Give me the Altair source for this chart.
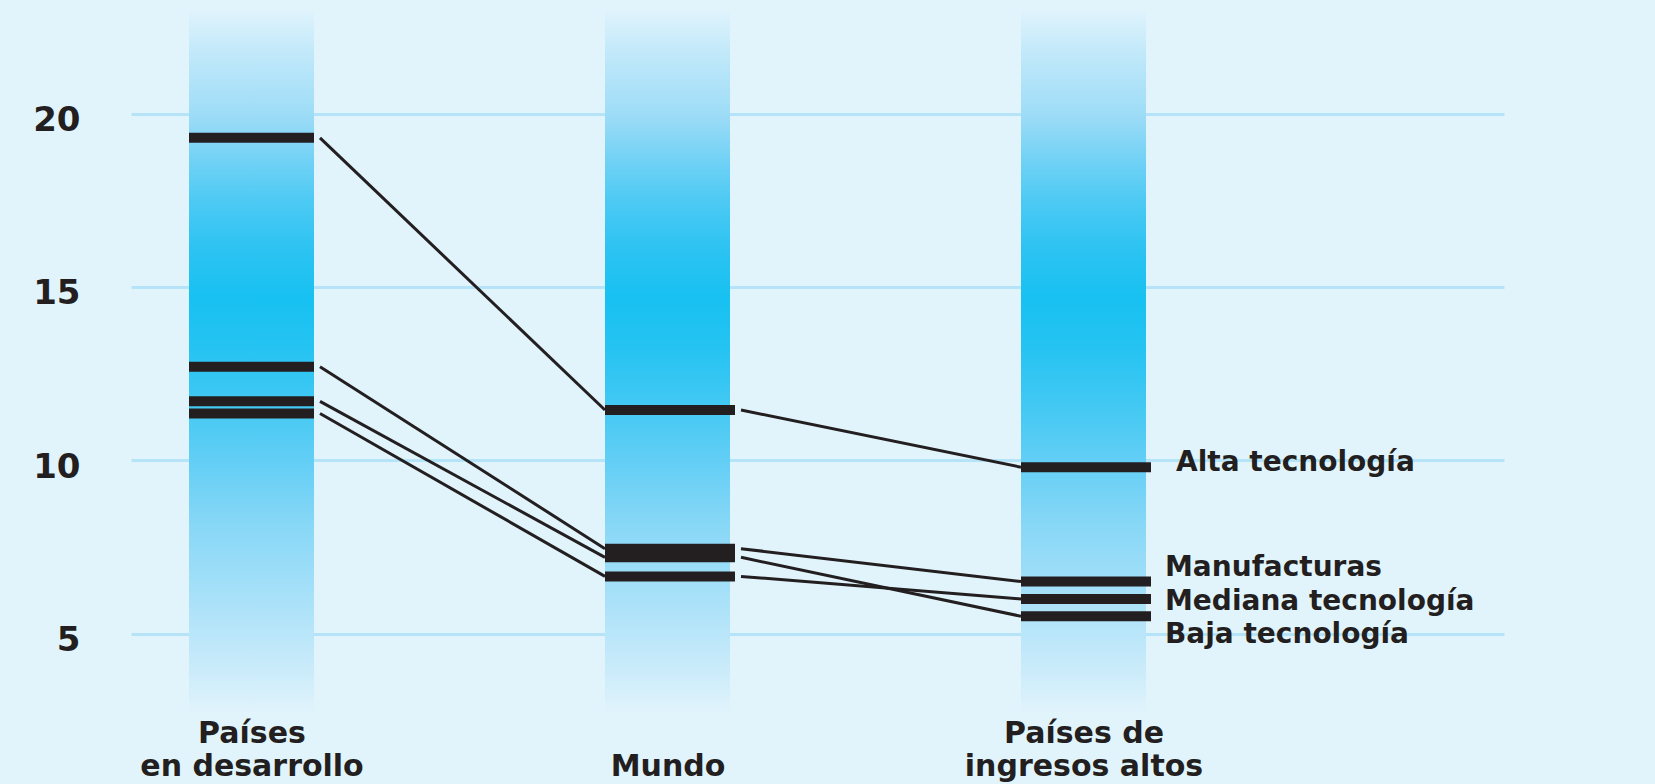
import json

import altair as alt
import pandas as pd

# ---- data -------------------------------------------------------------
groups = ["Países en desarrollo", "Mundo", "Países de ingresos altos"]
group_lines = [["Países", "en desarrollo"], ["", "Mundo"], ["Países de", "ingresos altos"]]
series = ["Alta tecnología", "Manufacturas", "Mediana tecnología", "Baja tecnología"]
developing = [19.3, 12.7, 11.35, 11.7]
world = [11.45, 7.45, 6.65, 7.2]
high_income = [9.8, 6.5, 6.0, 5.5]
y_ticks = [5, 10, 15, 20]

# ---- layout (pixels) --------------------------------------------------
W, H = 1655, 784
PAD_L, PAD_R, PAD_T, PAD_B = 131, 151, 10, 72
PLOT_W = W - PAD_L - PAD_R
PLOT_H = H - PAD_T - PAD_B
COL0 = 120.5        # centre of the first column, from the plot's left edge
COL_STEP = 416.0    # distance between column centres
COL_W = 125.0       # column width
Y20 = 113.6 - PAD_T  # pixel row of the value 20 inside the plot
PX_Y = 34.667        # pixels per unit on the y axis

x_dom = [-COL0 / COL_STEP, (PLOT_W - COL0) / COL_STEP]
y_dom = [20 - (PLOT_H - Y20) / PX_Y, 20 + Y20 / PX_Y]

HW = COL_W / 2 / COL_STEP
tick_ext = [0, 5, 5]      # px the level bars reach past the column
GAP = 6                   # px between a level bar and its connector
label_dx = [92.5, 81.5, 81.5, 81.5]   # px from the last column centre
label_dy = [-4, -13.5, 3.5, 18.5]     # px nudge so the labels do not collide

INK = "#231f20"
BG = "#e1f4fc"
FONT = "DejaVu Sans"

values = [developing, world, high_income]

# ---- tables -----------------------------------------------------------
cols_df = pd.DataFrame({"col": list(range(len(groups))), "group": groups})
cols_df["x"] = cols_df["col"] - HW
cols_df["x2"] = cols_df["col"] + HW
cols_df["y"] = y_dom[0]
cols_df["y2"] = y_dom[1]

tick_rows, seg_rows, lab_rows = [], [], []
for si, name in enumerate(series):
    for ci in range(len(groups)):
        v = values[ci][si]
        tick_rows.append({
            "serie": name, "group": groups[ci], "value": v,
            "x": ci - HW, "x2": ci + HW + tick_ext[ci] / COL_STEP,
        })
        if ci + 1 < len(groups):
            seg_rows.append({
                "serie": name,
                "x": ci + HW + (tick_ext[ci] + GAP) / COL_STEP,
                "x2": ci + 1 - HW,
                "y": v, "y2": values[ci + 1][si],
            })
    last = len(groups) - 1
    lab_rows.append({
        "serie": name,
        "x": last + label_dx[si] / COL_STEP,
        "y": values[last][si] - label_dy[si] / PX_Y,
    })
ticks_df = pd.DataFrame(tick_rows)
segs_df = pd.DataFrame(seg_rows)
labs_df = pd.DataFrame(lab_rows)

# ---- scales & axes ----------------------------------------------------
xs = alt.Scale(domain=x_dom, nice=False, zero=False)
ys = alt.Scale(domain=y_dom, nice=False, zero=False)

label_expr = " : ".join(
    f"datum.value == {i} ? {json.dumps(lines, ensure_ascii=False)}"
    for i, lines in enumerate(group_lines[:-1])
) + " : " + json.dumps(group_lines[-1], ensure_ascii=False)

x_axis = alt.Axis(
    values=list(range(len(groups))), labelExpr=label_expr, title=None,
    grid=False, domain=False, ticks=False, labelPadding=6,
    labelBaseline="top", labelLineHeight=33, labelLimit=0,
    labelOverlap=False, labelFlush=False,
    labelFont=FONT, labelFontWeight="bold", labelFontSize=30, labelColor=INK,
)
y_axis = alt.Axis(
    values=y_ticks, title=None, grid=True, gridColor="#b5e3f8", gridWidth=3,
    gridOpacity=1, domain=False, ticks=False, labelPadding=51,
    labelBaseline="middle", labelOffset=7, labelFont=FONT,
    labelFontWeight="bold", labelFontSize=34, labelColor=INK,
)

gradient = alt.Gradient(
    gradient="linear", x1=0, x2=0, y1=0, y2=1,
    stops=[
        alt.GradientStop(offset=0.0, color="#e0f3fc"),
        alt.GradientStop(offset=0.06, color="#c2e9fa"),
        alt.GradientStop(offset=0.15, color="#9ddcf7"),
        alt.GradientStop(offset=0.21, color="#74d2f5"),
        alt.GradientStop(offset=0.27, color="#4ecaf4"),
        alt.GradientStop(offset=0.34, color="#2dc3f2"),
        alt.GradientStop(offset=0.41, color="#17c1f1"),
        alt.GradientStop(offset=0.48, color="#25c3f2"),
        alt.GradientStop(offset=0.57, color="#45c9f3"),
        alt.GradientStop(offset=0.64, color="#62cef5"),
        alt.GradientStop(offset=0.73, color="#86d7f6"),
        alt.GradientStop(offset=0.84, color="#a9e1f9"),
        alt.GradientStop(offset=0.93, color="#c7eafa"),
        alt.GradientStop(offset=1.0, color="#e0f3fc"),
    ],
)


def xq(field):
    return alt.X(field, scale=xs, axis=x_axis)


def yq(field):
    return alt.Y(field, scale=ys, axis=y_axis)


# ---- layers -----------------------------------------------------------
columns = alt.Chart(cols_df).mark_rect(color=gradient).encode(
    x=xq("x:Q"), x2="x2:Q", y=yq("y:Q"), y2="y2:Q",
)

levels = alt.Chart(ticks_df).mark_rule(color=INK, strokeWidth=10).encode(
    x=xq("x:Q"), x2="x2:Q", y=yq("value:Q"),
)

connectors = alt.Chart(segs_df).mark_rule(color=INK, strokeWidth=3).encode(
    x=xq("x:Q"), x2="x2:Q", y=yq("y:Q"), y2="y2:Q",
)

labels = alt.Chart(labs_df).mark_text(
    align="left", baseline="middle", font=FONT, fontWeight="bold",
    fontSize=28, color=INK,
).encode(
    x=xq("x:Q"), y=yq("y:Q"), text="serie:N",
)

chart = (
    alt.layer(columns, levels, connectors, labels)
    .properties(
        width=PLOT_W, height=PLOT_H,
        padding={"left": PAD_L, "right": PAD_R, "top": PAD_T, "bottom": PAD_B},
        autosize=alt.AutoSizeParams(type="none"),
        background=BG,
    )
    .configure_view(strokeWidth=0)
)

chart.save("out.html", embed_options={"renderer": "svg", "actions": False})
